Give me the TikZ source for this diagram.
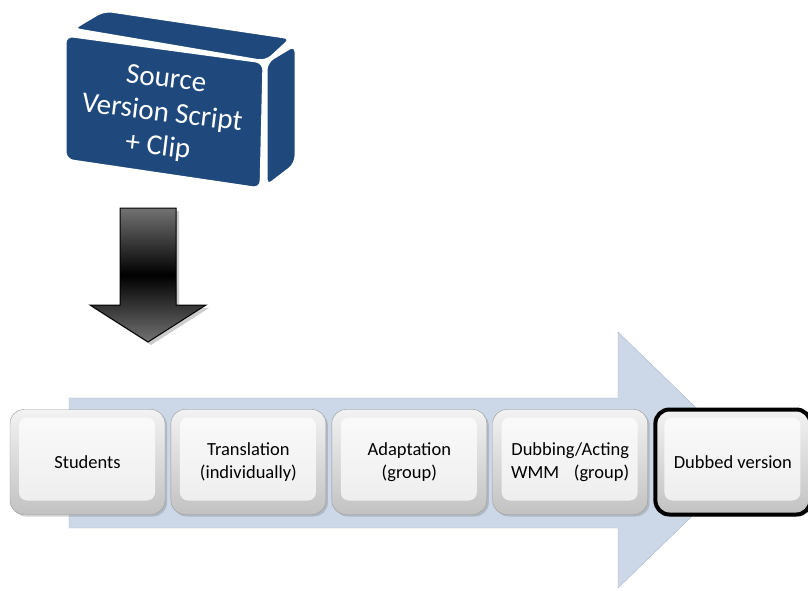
\documentclass[tikz,border=0pt]{standalone}
\usepackage{fontspec}
\setmainfont{Carlito}
\usetikzlibrary{positioning,shadows}
\definecolor{srcblue}{RGB}{31,73,125}
\definecolor{flowblue}{RGB}{198,211,229}
\tikzset{
  face/.style={fill=srcblue, draw=white, line width=3pt, line join=round, rounded corners=8pt},
  stage/.style={draw=black!40, rounded corners=14pt, top color=black!5, bottom color=black!24,
    minimum width=155pt, minimum height=105pt, align=center, font=\fontsize{18.5}{23}\selectfont,
    drop shadow={shadow xshift=2pt, shadow yshift=-2pt, opacity=.35},
    path picture={\fill[white, opacity=.7, rounded corners=8pt]
      ([shift={(9pt,-8pt)}]path picture bounding box.north west) rectangle
      ([shift={(-10pt,14pt)}]path picture bounding box.south east);}},
  final/.style={stage, draw=black, line width=4pt},
}
\begin{document}
\begin{tikzpicture}[x=1pt, y=-1pt]
  \useasboundingbox (0,0) rectangle (808,590);
  % source box, drawn as three faces
  \fill[face] (72,29) -- (104,10) -- (292,38) -- (266,62) -- cycle;
  \fill[face] (266,62) -- (296,44) -- (296,164) -- (266,187) -- cycle;
  \filldraw[face] (65,35) -- (264,62) -- (261,189) -- (65,160) -- cycle;
  \node[rotate=-7, text=white, align=center, font=\fontsize{29}{34}\selectfont] (src) at (162,114) {Source\\Version Script\\+ Clip};
  % down arrow
  \def\downpath{(120,208) -- (176,208) -- (176,305) -- (206,305) -- (148,342) -- (90,305) -- (120,305) -- cycle}
  \draw[black, line width=1pt, top color=black!55, bottom color=black!55, middle color=black,
    drop shadow={shadow xshift=3pt, shadow yshift=-3pt, opacity=.4}] \downpath;
  % flow arrow behind the stages
  \def\flowpath{(69,398) -- (618,398) -- (618,332) -- (750,460) -- (618,588) -- (618,528) -- (69,528) -- cycle}
  \filldraw[fill=flowblue, draw=flowblue!85!black, opacity=.9] \flowpath;
  % stages
  \node[stage] (students) at (87.5,462) {Students};
  \node[stage, right=5.5pt of students] (transl) {Translation\\(individually)};
  \node[stage, right=5.5pt of transl] (adapt) {Adaptation\\(group)};
  \node[stage, right=5.5pt of adapt] (dubbing) {Dubbing/Acting\\\makebox[118pt]{WMM\hfill(group)}};
  \node[final, right=5.5pt of dubbing] (dubbed) {Dubbed version};
\end{tikzpicture}
\end{document}
